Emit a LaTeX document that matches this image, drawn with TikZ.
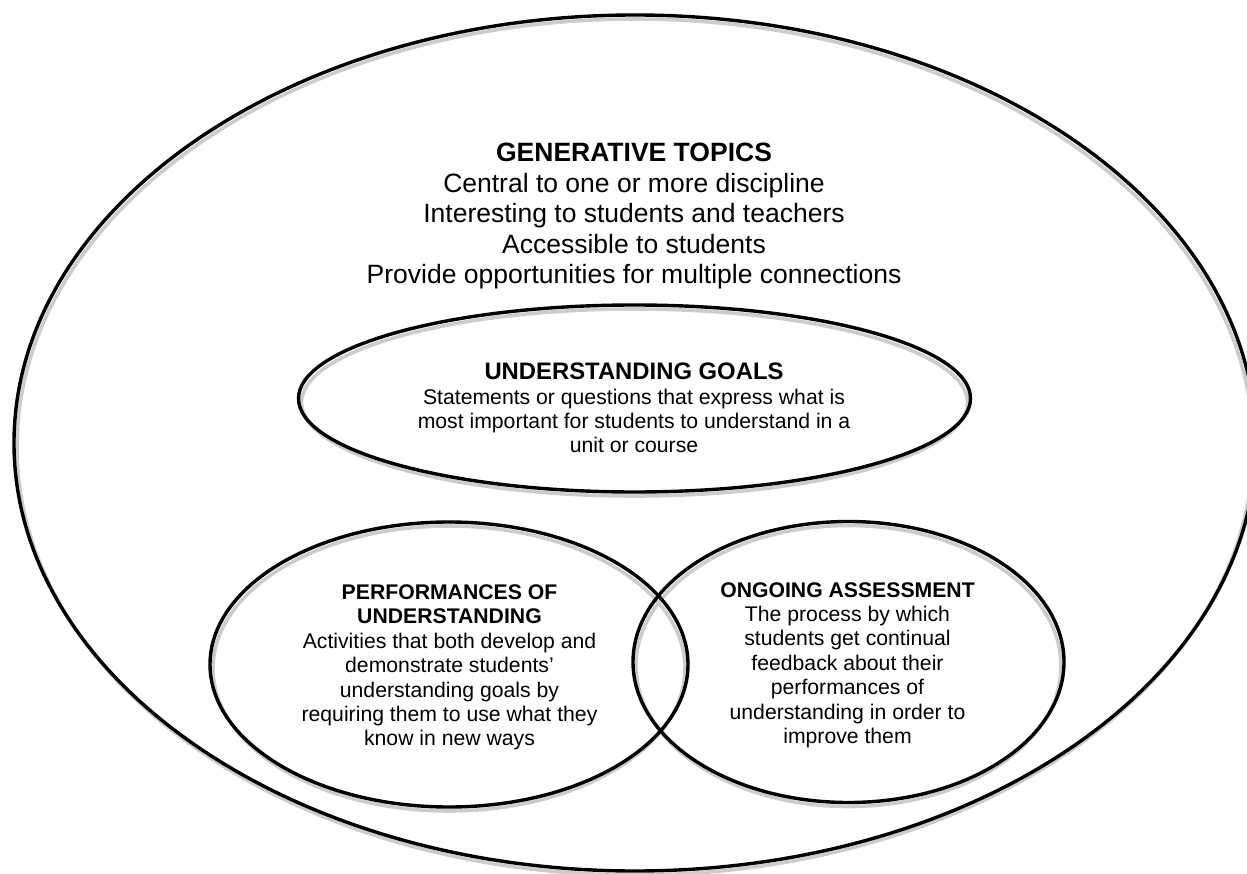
\documentclass[tikz,border=0pt]{standalone}
\usepackage{fontspec}
\setmainfont{Liberation Sans}
\usetikzlibrary{shapes.geometric}
\tikzset{
  ring/.style={draw=black, line width=3.4pt, shape=ellipse, inner sep=0pt, outer sep=0pt},
  ringshadow/.style={draw=black!20, line width=3.6pt, shape=ellipse, inner sep=0pt, outer sep=0pt},
  lbl/.style={anchor=base, inner sep=0pt, outer sep=0pt}
}
\newcommand{\txtblk}[3]{{\fontsize{#1}{#2}\selectfont\setlength{\tabcolsep}{0pt}\begin{tabular}[t]{c}#3\end{tabular}}}
\begin{document}
\begin{tikzpicture}[x=1pt,y=-1pt]
\useasboundingbox (0,0) rectangle (1247,874);
\clip (0,0) rectangle (1247,874);
% shadows
\node[ringshadow, minimum width=1236pt, minimum height=856pt] (bigs) at (635,447) {};
\node[ringshadow, minimum width=666pt, minimum height=187pt] (ugs) at (634.5,402.5) {};
\node[ringshadow, minimum width=472pt, minimum height=285pt] (pous) at (449,668.5) {};
\node[ringshadow, minimum width=425pt, minimum height=281pt] (oas) at (848.5,666) {};
% ellipses
\node[ring, minimum width=1242pt, minimum height=856pt] (big) at (635,443) {};
\node[ring, minimum width=672pt, minimum height=187pt] (ug) at (634.5,398.5) {};
\node[ring, minimum width=478pt, minimum height=285pt] (pou) at (449,664.5) {};
\node[ring, minimum width=431pt, minimum height=281pt] (oa) at (848.5,662) {};
% texts
\node[lbl] (gttext) at (634,162) {\txtblk{26.5}{30.5}{\textbf{GENERATIVE TOPICS}\\
Central to one or more discipline\\
Interesting to students and teachers\\
Accessible to students\\
Provide opportunities for multiple connections}};
\node[lbl] (ughead) at (634,379) {\txtblk{23.85}{27.4}{\textbf{UNDERSTANDING GOALS}}};
\node[lbl] (ugbody) at (634,404) {\txtblk{21.2}{24.4}{Statements or questions that express what is\\
most important for students to understand in a\\
unit or course}};
\node[lbl] (poutext) at (449.5,599.5) {\txtblk{21.2}{24.4}{\textbf{PERFORMANCES OF}\\
\textbf{UNDERSTANDING}\\
Activities that both develop and\\
demonstrate students’\\
understanding goals by\\
requiring them to use what they\\
know in new ways}};
\node[lbl] (oatext) at (847.5,597) {\txtblk{21.2}{24.4}{\textbf{ONGOING ASSESSMENT}\\
The process by which\\
students get continual\\
feedback about their\\
performances of\\
understanding in order to\\
improve them}};
\end{tikzpicture}
\end{document}
